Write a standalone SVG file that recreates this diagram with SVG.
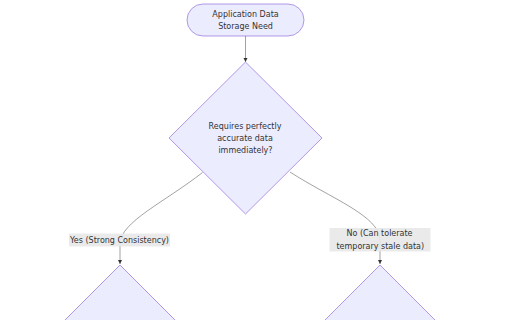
<svg xmlns="http://www.w3.org/2000/svg" width="512" height="320" viewBox="0 0 512 320">
<style>
.node{fill:#ECECFF;stroke:#9370DB;stroke-width:0.7}
.lbl{font-family:"DejaVu Sans",sans-serif;font-size:8px;fill:#333;text-anchor:middle}
.edge{fill:none;stroke:#555;stroke-width:0.55}
.lblbg{fill:#e8e8e8;opacity:0.9}
</style>
<defs>
<marker id="arr" viewBox="0 0 10 10" refX="10" refY="5" markerWidth="4.5" markerHeight="4.5" markerUnits="userSpaceOnUse" orient="auto">
<path d="M0,0 L10,5 L0,10 z" fill="#333"/>
</marker>
</defs>
<rect width="512" height="320" fill="#fff"/>
<g id="edges">
<path class="edge" d="M245.5,36 L245.5,62" marker-end="url(#arr)"/>
<path class="edge" d="M202.5,172.5 C165,202 120,222 120,244 L120,264" marker-end="url(#arr)"/>
<path class="edge" d="M290,172 C330,198 380,216 380,240 L380,264" marker-end="url(#arr)"/>
</g>
<g id="start">
<rect class="node" x="187" y="4" width="117" height="32" rx="16" ry="16"/>
<text class="lbl" x="245.5" y="16.8">Application Data</text>
<text class="lbl" x="245.5" y="28.6">Storage Need</text>
</g>
<g id="decision">
<polygon class="node" points="245.5,62 322,138 245.5,214 169,138"/>
<text class="lbl" x="245" y="129">Requires perfectly</text>
<text class="lbl" x="245" y="141">accurate data</text>
<text class="lbl" x="245.5" y="153">immediately?</text>
</g>
<g id="strong">
<polygon class="node" points="120,265 196,341 120,417 44,341"/>
</g>
<g id="eventual">
<polygon class="node" points="380,265 456,341 380,417 304,341"/>
</g>
<g id="edge-labels">
<rect class="lblbg" x="69" y="233.5" width="101" height="13"/>
<text class="lbl" x="119.5" y="242.6">Yes (Strong Consistency)</text>
<rect class="lblbg" x="329.5" y="228" width="101" height="23.5"/>
<text class="lbl" x="379.5" y="236.2">No (Can tolerate</text>
<text class="lbl" x="380.3" y="248.5">temporary stale data)</text>
</g>
</svg>
